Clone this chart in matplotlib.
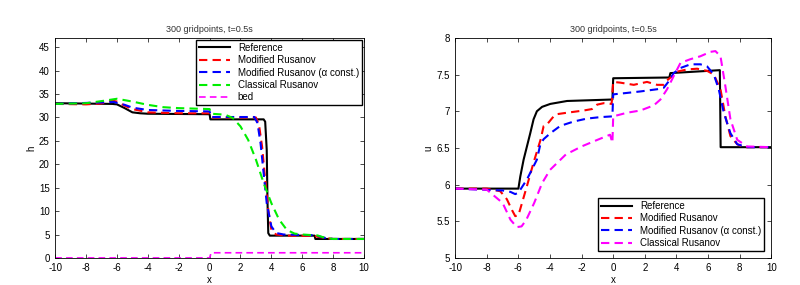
import matplotlib
matplotlib.use('Agg')
import matplotlib.pyplot as plt
from matplotlib.ticker import FormatStrFormatter

plt.rcParams['font.family'] = ['Liberation Sans', 'DejaVu Sans']
plt.rcParams['axes.unicode_minus'] = False

# ---- h (left) ----
ref_h_x = [-10, -6.3, -6, -5.5, -5, -4.5, -4, 0, 0.05, 3.5, 3.6, 3.7, 3.75, 3.8, 3.9, 6.8, 6.85, 10]
ref_h_y = [33.05, 32.9, 32.8, 32.0, 31.1, 30.9, 30.8, 30.7, 29.6, 29.6, 29.1, 23.1, 12.0, 5.3, 4.76, 4.76, 4.05, 4.05]

mod_h_x = [-10, -8, -7, -6.3, -6, -5.5, -5, -4, -2, 0, 0.1, 3, 3.2, 3.4, 3.6, 3.8, 4.0, 4.3, 5, 6.8, 7, 7.5, 8, 10]
mod_h_y = [32.9, 32.8, 33.0, 33.6, 33.4, 32.5, 31.8, 31.1, 30.9, 30.9, 30.0, 30.0, 28.4, 23.8, 16.7, 10.3, 6.0, 5.0, 4.76, 4.7, 4.5, 4.26, 4.05, 4.05]

modc_h_x = [-10, -6.2, -5.5, -5, -4, -2, 0, 0.1, 2.9, 3.1, 3.3, 3.5, 3.7, 4.0, 4.3, 4.8, 6.8, 7.5, 8, 10]
modc_h_y = [32.9, 33.3, 32.7, 32.1, 31.6, 31.4, 31.3, 30.1, 30.1, 28.8, 24.5, 18.1, 11.7, 6.75, 5.33, 5.0, 4.85, 4.26, 4.05, 4.05]

cls_h_x = [-10, -8, -7, -6, -5, -4, -3, -2, 0, 0.1, 1, 1.5, 2, 2.5, 3, 3.5, 4, 4.5, 5, 5.5, 6, 7, 7.5, 8, 10]
cls_h_y = [32.9, 33.05, 33.5, 34.0, 33.4, 32.7, 32.2, 32.0, 31.8, 30.8, 30.6, 29.9, 28.1, 25.2, 21.0, 16.0, 11.7, 8.2, 6.0, 5.2, 5.0, 4.8, 4.26, 4.05, 4.05]

bed_x = [-10, 0, 0.1, 10]
bed_y = [0, 0, 1.1, 1.1]

# ---- u (right) ----
ref_u_x = [-10, -6.0, -5.88, -5.67, -5.46, -5.25, -5.04, -4.83, -4.5, -3.98, -2.92, -0.05, 0, 3.55, 3.62, 6.75, 6.8, 10]
ref_u_y = [5.945, 5.945, 6.11, 6.34, 6.52, 6.70, 6.89, 7.0, 7.06, 7.10, 7.14, 7.16, 7.45, 7.46, 7.52, 7.56, 6.51, 6.51]

mod_u_x = [-10, -8, -7.15, -6.73, -6.4, -6.2, -6.0, -5.46, -5.04, -4.6, -4.4, -4.19, -3.77, -3.56, -2.92, -1.87, -1.34, -1.02, -0.6, -0.1, 0,
           0.45, 1.3, 2.14, 2.78, 3.2, 3.41, 3.73, 4.04, 4.68, 5.31, 5.95, 6.37, 6.79, 7.1, 7.42, 7.85, 8.27, 10]
mod_u_y = [5.945, 5.945, 5.91, 5.80, 5.65, 5.57, 5.58, 5.98, 6.30, 6.61, 6.80, 6.82, 6.93, 6.96, 6.98, 7.01, 7.03, 7.09, 7.11, 7.10, 7.40,
           7.39, 7.36, 7.40, 7.36, 7.36, 7.42, 7.48, 7.54, 7.57, 7.58, 7.55, 7.50, 7.30, 6.93, 6.66, 6.55, 6.51, 6.51]

modc_u_x = [-10, -7, -6.5, -6.2, -6.0, -5.46, -5.04, -4.83, -4.61, -4.4, -3.98, -3.35, -2.5, -1.66, -0.81, -0.05, 0,
            0.88, 1.72, 2.78, 3.2, 3.52, 3.83, 4.26, 4.89, 5.52, 5.95, 6.37, 6.68, 7.0, 7.42, 7.85, 8.48, 10]
modc_u_y = [5.945, 5.92, 5.90, 5.87, 5.89, 6.07, 6.25, 6.34, 6.55, 6.62, 6.70, 6.80, 6.86, 6.90, 6.92, 6.93, 7.23,
            7.25, 7.27, 7.30, 7.32, 7.41, 7.52, 7.59, 7.64, 7.64, 7.61, 7.50, 7.30, 6.98, 6.70, 6.55, 6.51, 6.51]

cls_u_x = [-10, -8, -7.5, -7, -6.5, -6.1, -5.8, -5.5, -5, -4.5, -4, -3, -2, -1, -0.2, -0.05, 0,
           0.88, 1.72, 2.57, 2.99, 3.41, 3.83, 4.26, 4.89, 5.52, 6.16, 6.47, 6.79, 7.1, 7.42, 7.85, 8.48, 10]
cls_u_y = [5.945, 5.93, 5.84, 5.75, 5.52, 5.42, 5.43, 5.52, 5.75, 6.02, 6.20, 6.41, 6.52, 6.61, 6.68, 6.57, 6.93,
           6.98, 7.01, 7.08, 7.16, 7.30, 7.48, 7.66, 7.71, 7.75, 7.81, 7.82, 7.75, 7.34, 6.89, 6.61, 6.52, 6.51]

title = '300 gridpoints, t=0.5s'
fs = 7
dash = (0, (4, 2.5))

fig = plt.figure(figsize=(8, 2.85), dpi=100)
ax1 = fig.add_axes([0.069, 0.095, 0.386, 0.772])
ax2 = fig.add_axes([0.569, 0.095, 0.395, 0.772])

ax1.plot(ref_h_x, ref_h_y, color='black', lw=1.5, label='Reference')
ax1.plot(mod_h_x, mod_h_y, color='red', lw=1.5, ls=dash, label='Modified Rusanov')
ax1.plot(modc_h_x, modc_h_y, color='blue', lw=1.5, ls=dash, label='Modified Rusanov (\u03b1 const.)')
ax1.plot(cls_h_x, cls_h_y, color='#00ee00', lw=1.5, ls=dash, label='Classical Rusanov')
ax1.plot(bed_x, bed_y, color='magenta', lw=1.2, ls=dash, label='bed')
ax1.set_xlim(-10, 10)
ax1.set_ylim(0, 47)
ax1.set_yticks(range(0, 50, 5))
ax1.set_xticks(range(-10, 11, 2))
ax1.set_ylabel('h', fontsize=fs, labelpad=2)
ax1.legend(loc='upper right', fontsize=fs, handlelength=3.2, borderaxespad=0.2,
           fancybox=False, edgecolor='black', framealpha=1, borderpad=0.3, labelspacing=0.25)

ax2.plot(ref_u_x, ref_u_y, color='black', lw=1.5, label='Reference')
ax2.plot(mod_u_x, mod_u_y, color='red', lw=1.5, ls=dash, label='Modified Rusanov')
ax2.plot(modc_u_x, modc_u_y, color='blue', lw=1.5, ls=dash, label='Modified Rusanov (\u03b1 const.)')
ax2.plot(cls_u_x, cls_u_y, color='magenta', lw=1.5, ls=dash, label='Classical Rusanov')
ax2.set_xlim(-10, 10)
ax2.set_ylim(5, 8)
ax2.set_xticks(range(-10, 11, 2))
ax2.yaxis.set_major_formatter(FormatStrFormatter('%g'))
ax2.set_ylabel('u', fontsize=fs, labelpad=2)
ax2.legend(loc='lower right', fontsize=fs, handlelength=3.2, borderaxespad=0.7,
           fancybox=False, edgecolor='black', framealpha=1, borderpad=0.3, labelspacing=0.25)

for ax in (ax1, ax2):
    ax.set_title(title, fontsize=6.5, color='#333333', pad=4)
    ax.set_xlabel('x', fontsize=fs, labelpad=1)
    ax.tick_params(direction='in', top=True, right=True, labelsize=fs, length=3, width=0.5)
    ax.tick_params(axis='x', pad=4)
    ax.tick_params(axis='y', pad=4)
    for s in ax.spines.values():
        s.set_linewidth(0.6)

fig.savefig('out.png', dpi=100)
